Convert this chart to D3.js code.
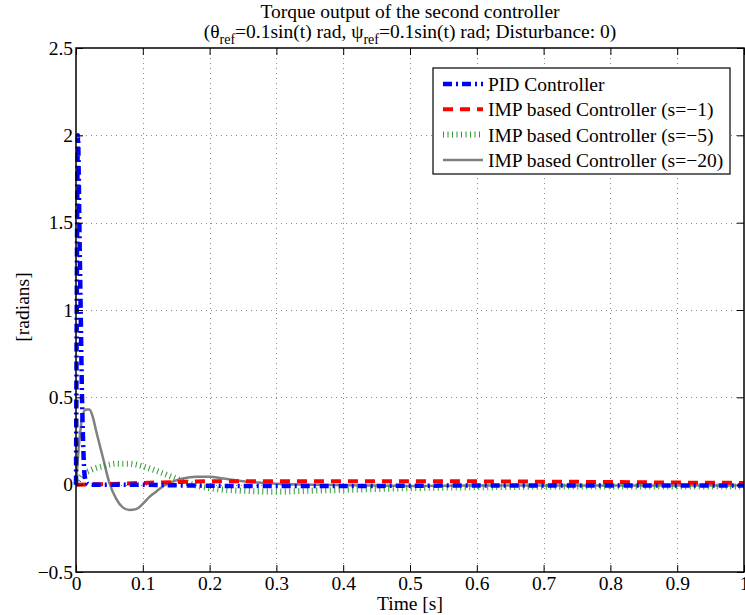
<!DOCTYPE html>
<html>
<head>
<meta charset="utf-8">
<script src="https://cdn.jsdelivr.net/npm/d3@7"></script>
<style>
  body { margin: 0; background: #fff; }
</style>
</head>
<body>
<script>
// data
var pidT = [0, 0.001, 0.002, 0.003, 0.004, 0.005, 0.007, 0.009, 0.011, 0.013, 0.016, 0.02, 0.05, 0.1, 0.15, 0.2, 0.25, 0.3, 0.4, 0.5, 0.6, 0.7, 0.8, 0.9, 1];
var pidV = [0, 0.9, 1.7, 2.0, 1.8, 1.5, 1.0, 0.5, 0.2, 0.05, 0.01, 0, 0, 0, -0.004, -0.006, -0.008, -0.008, -0.008, -0.006, -0.005, -0.005, -0.005, -0.005, -0.005];

var imp1T = [0, 0.05, 0.1, 0.15, 0.2, 0.3, 0.4, 0.5, 0.6, 0.7, 0.8, 0.9, 1];
var imp1V = [0, 0.004, 0.01, 0.015, 0.02, 0.02, 0.02, 0.02, 0.019, 0.017, 0.015, 0.012, 0.01];

var imp5T = [0, 0.01, 0.02, 0.03, 0.04, 0.05, 0.06, 0.07, 0.08, 0.09, 0.1, 0.12, 0.14, 0.16, 0.18, 0.2, 0.25, 0.3, 0.35, 0.4, 0.45, 0.5, 0.6, 0.7, 0.8, 0.9, 1];
var imp5V = [0, 0.06, 0.08, 0.095, 0.105, 0.115, 0.12, 0.12, 0.12, 0.115, 0.105, 0.08, 0.05, 0.02, -0.005, -0.02, -0.035, -0.04, -0.035, -0.03, -0.025, -0.02, -0.015, -0.012, -0.01, -0.01, -0.01];

var imp20T = [0, 0.005, 0.01, 0.015, 0.02, 0.025, 0.03, 0.04, 0.05, 0.06, 0.07, 0.08, 0.09, 0.1, 0.11, 0.12, 0.13, 0.14, 0.16, 0.18, 0.2, 0.22, 0.25, 0.3, 0.35, 0.4, 0.5, 0.6, 0.7, 0.8, 0.9, 1];
var imp20V = [0, 0.25, 0.4, 0.43, 0.43, 0.39, 0.31, 0.16, 0.01, -0.08, -0.13, -0.145, -0.14, -0.11, -0.07, -0.04, -0.01, 0.01, 0.035, 0.045, 0.045, 0.035, 0.02, 0.005, 0, -0.004, -0.007, -0.005, -0.005, -0.005, -0.005, -0.005];

var xTicks = [0, 0.1, 0.2, 0.3, 0.4, 0.5, 0.6, 0.7, 0.8, 0.9, 1];
var yTicks = [-0.5, 0, 0.5, 1, 1.5, 2, 2.5];
var legendLabels = ["PID Controller", "IMP based Controller (s=\u22121)", "IMP based Controller (s=\u22125)", "IMP based Controller (s=\u221220)"];

var FONT = "Liberation Serif";
var FS = 19.5;
var width = 745, height = 615;
var m = {left: 76, right: 1, top: 48, bottom: 43};

var svg = d3.select("body").append("svg")
    .attr("width", width)
    .attr("height", height);

var x = d3.scaleLinear().domain([0, 1]).range([m.left, width - m.right]);
var y = d3.scaleLinear().domain([-0.5, 2.5]).range([height - m.bottom, m.top]);

// grid
var grid = svg.append("g").attr("stroke", "#8a8a8a").attr("stroke-width", 1).attr("stroke-dasharray", "1,4");
grid.selectAll(".gx").data(xTicks.slice(1, -1)).enter().append("line")
    .attr("x1", d => Math.round(x(d)) + 0.5).attr("x2", d => Math.round(x(d)) + 0.5)
    .attr("y1", y(2.5)).attr("y2", y(-0.5));
grid.selectAll(".gy").data(yTicks.slice(1, -1)).enter().append("line")
    .attr("y1", d => Math.round(y(d)) + 0.5).attr("y2", d => Math.round(y(d)) + 0.5)
    .attr("x1", x(0)).attr("x2", x(1));

// series
function toPts(ts, vs) { return ts.map((t, i) => [t, vs[i]]); }
var line = d3.line().x(d => x(d[0])).y(d => y(d[1])).curve(d3.curveMonotoneX);

var series = [
  {pts: toPts(imp20T, imp20V), color: "#808080", w: 2.5, dash: null},
  {pts: toPts(imp5T, imp5V), color: "#2f9a2f", w: 6, dash: "1,3.5"},
  {pts: toPts(imp1T, imp1V), color: "#ff0000", w: 4, dash: "10,7"},
  {pts: toPts(pidT, pidV), color: "#0000ff", w: 4.5, dash: "9,4,2,4"}
];
var plot = svg.append("g");
plot.selectAll("path").data(series).enter().append("path")
    .attr("d", d => line(d.pts))
    .attr("fill", "none")
    .attr("stroke", d => d.color)
    .attr("stroke-width", d => d.w)
    .attr("stroke-dasharray", d => d.dash);

// axes box
svg.append("rect")
    .attr("x", x(0)).attr("y", y(2.5))
    .attr("width", x(1) - x(0)).attr("height", y(-0.5) - y(2.5))
    .attr("fill", "none").attr("stroke", "#000").attr("stroke-width", 1.5);

var xb = svg.append("g").attr("transform", "translate(0," + y(-0.5) + ")")
    .call(d3.axisBottom(x).tickValues(xTicks).tickSize(-7).tickPadding(4).tickFormat(d3.format("")));
var xt = svg.append("g").attr("transform", "translate(0," + y(2.5) + ")")
    .call(d3.axisTop(x).tickValues(xTicks).tickSize(-7).tickFormat(""));
var yl = svg.append("g").attr("transform", "translate(" + x(0) + ",0)")
    .call(d3.axisLeft(y).tickValues(yTicks).tickSize(-7).tickPadding(3).tickFormat(d => d < 0 ? "\u2212" + Math.abs(d) : d));
var yr = svg.append("g").attr("transform", "translate(" + x(1) + ",0)")
    .call(d3.axisRight(y).tickValues(yTicks).tickSize(-7).tickFormat(""));
[xb, xt, yl, yr].forEach(function(g) {
  g.attr("font-family", FONT).attr("font-size", FS);
  g.select(".domain").remove();
  g.selectAll("line").attr("stroke", "#000");
  g.selectAll("text").attr("font-family", FONT).attr("font-size", FS).attr("fill", "#000");
});

function label(sel) { return sel.attr("font-family", FONT).attr("font-size", FS).attr("fill", "#000"); }

// titles
label(svg.append("text")).attr("x", 410).attr("y", 18).attr("text-anchor", "middle")
    .text("Torque output of the second controller");
var t2 = label(svg.append("text")).attr("x", 410).attr("y", 38).attr("text-anchor", "middle");
t2.append("tspan").text("(\u03b8");
t2.append("tspan").attr("dy", 6).attr("font-size", 14).text("ref");
t2.append("tspan").attr("dy", -6).text("=0.1sin(t) rad, \u03c8");
t2.append("tspan").attr("dy", 6).attr("font-size", 14).text("ref");
t2.append("tspan").attr("dy", -6).text("=0.1sin(t) rad; Disturbance: 0)");

label(svg.append("text")).attr("x", 410).attr("y", 610).attr("text-anchor", "middle")
    .text("Time [s]");
label(svg.append("text")).attr("transform", "translate(29,307) rotate(-90)").attr("text-anchor", "middle")
    .text("[radians]");

// legend
var lg = svg.append("g").attr("transform", "translate(433,68)");
lg.append("rect").attr("width", 297).attr("height", 106).attr("fill", "#fff").attr("stroke", "#000").attr("stroke-width", 1.2);
var legendSeries = [series[3], series[2], series[1], series[0]];
var items = lg.selectAll(".item").data(legendLabels).enter().append("g")
    .attr("transform", (d, i) => "translate(0," + (16 + i * 25.3) + ")");
items.append("line").attr("x1", 10).attr("x2", 50)
    .attr("stroke", (d, i) => legendSeries[i].color)
    .attr("stroke-width", (d, i) => legendSeries[i].w)
    .attr("stroke-dasharray", (d, i) => legendSeries[i].dash);
label(items.append("text")).attr("x", 55).attr("y", 7).text(d => d);
</script>
</body>
</html>
